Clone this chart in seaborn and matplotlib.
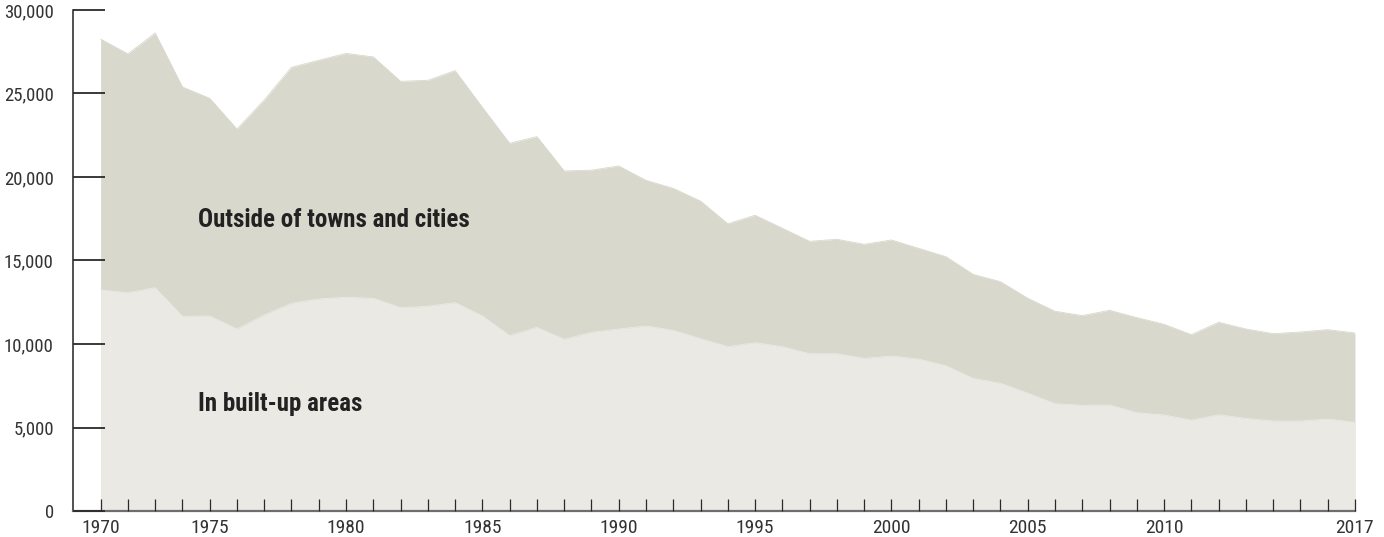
import matplotlib
matplotlib.use("Agg")
import matplotlib.pyplot as plt
from matplotlib import font_manager
import seaborn as sns
import pandas as pd

# Casualties by road environment, yearly series
years = list(range(1971, 2018))
built_up = [
    13250, 13070, 13370, 11660, 11680, 10900, 11740, 12440, 12700, 12800,
    12740, 12180, 12260, 12480, 11680, 10500, 11000, 10280, 10700, 10900,
    11080, 10820, 10320, 9840, 10080, 9840, 9420, 9420, 9140, 9280,
    9100, 8700, 7940, 7650, 7060, 6430, 6330, 6350, 5890, 5750,
    5440, 5760, 5550, 5390, 5390, 5510, 5310,
]
outside = [
    15010, 14300, 15250, 13730, 13030, 11970, 12870, 14130, 14290, 14600,
    14450, 13550, 13530, 13890, 12490, 11520, 11420, 10080, 9710, 9760,
    8720, 8500, 8240, 7360, 7630, 7090, 6730, 6850, 6830, 6950,
    6630, 6530, 6230, 6080, 5680, 5530, 5370, 5670, 5690, 5430,
    5120, 5540, 5350, 5230, 5330, 5350, 5350,
]
tick_positions = [1971, 1975, 1980, 1985, 1990, 1995, 2000, 2005, 2010, 2017]
tick_labels = ["1970", "1975", "1980", "1985", "1990", "1995", "2000", "2005", "2010", "2017"]
y_ticks = [0, 5000, 10000, 15000, 20000, 25000, 30000]
y_labels = ["0", "5,000", "10,000", "15,000", "20,000", "25,000", "30,000"]
area_labels = ["Outside of towns and cities", "In built-up areas"]

sns.set_style("white", {"xtick.bottom": True, "ytick.left": True, "axes.axisbelow": False})
installed = {f.name for f in font_manager.fontManager.ttflist}
family = [f for f in ["Liberation Sans Narrow", "Roboto Condensed", "Liberation Sans"] if f in installed]
plt.rcParams["font.family"] = family + ["DejaVu Sans"]

df = pd.DataFrame({"year": years, "built_up": built_up, "outside": outside})
df["total"] = df["built_up"] + df["outside"]

col_outside = "#d8d8cc"
col_built = "#eae9e4"
tick_col = "#2a2a2a"

fig = plt.figure(figsize=(13.84, 5.37), dpi=100)
ax = fig.add_axes([0.0530, 0.0484, 0.9260, 0.9330])

ax.fill_between(df["year"], 0, df["total"], color=col_outside, lw=0, zorder=1)
ax.fill_between(df["year"], 0, df["built_up"], color=col_built, lw=0, zorder=1)
sns.lineplot(data=df, x="year", y="total", ax=ax, color=col_outside, lw=0.6, zorder=1)
sns.lineplot(data=df, x="year", y="built_up", ax=ax, color=col_built, lw=0.6, zorder=1)

ax.set_xlim(1970, 2017)
ax.set_ylim(0, 30000)
ax.set_xlabel("")
ax.set_ylabel("")

ax.set_yticks(y_ticks)
ax.set_yticklabels(y_labels)
ax.set_xticks(years, minor=True)
ax.set_xticks(tick_positions)
ax.set_xticklabels(tick_labels)

ax.tick_params(axis="y", which="major", left=True, direction="in", length=23,
               width=1.3, color=tick_col, pad=14, labelsize=13.5, labelcolor="#333333")
ax.tick_params(axis="x", which="both", bottom=True, direction="in", length=8.5,
               width=0.9, color=tick_col, pad=6, labelsize=14, labelcolor="#333333")
ax.xaxis.set_zorder(3)
ax.yaxis.set_zorder(3)

for side in ["top", "right"]:
    ax.spines[side].set_visible(False)
ax.spines["left"].set_color("#222222")
ax.spines["left"].set_linewidth(1.1)
ax.spines["bottom"].set_color("#6e6e6e")
ax.spines["bottom"].set_linewidth(1.6)

ax.text(1974.57, 17450, area_labels[0], fontsize=18, fontweight="bold",
        color="#222222", va="center", ha="left")
ax.text(1974.57, 6400, area_labels[1], fontsize=18, fontweight="bold",
        color="#222222", va="center", ha="left")

fig.savefig("out.png", dpi=100)
